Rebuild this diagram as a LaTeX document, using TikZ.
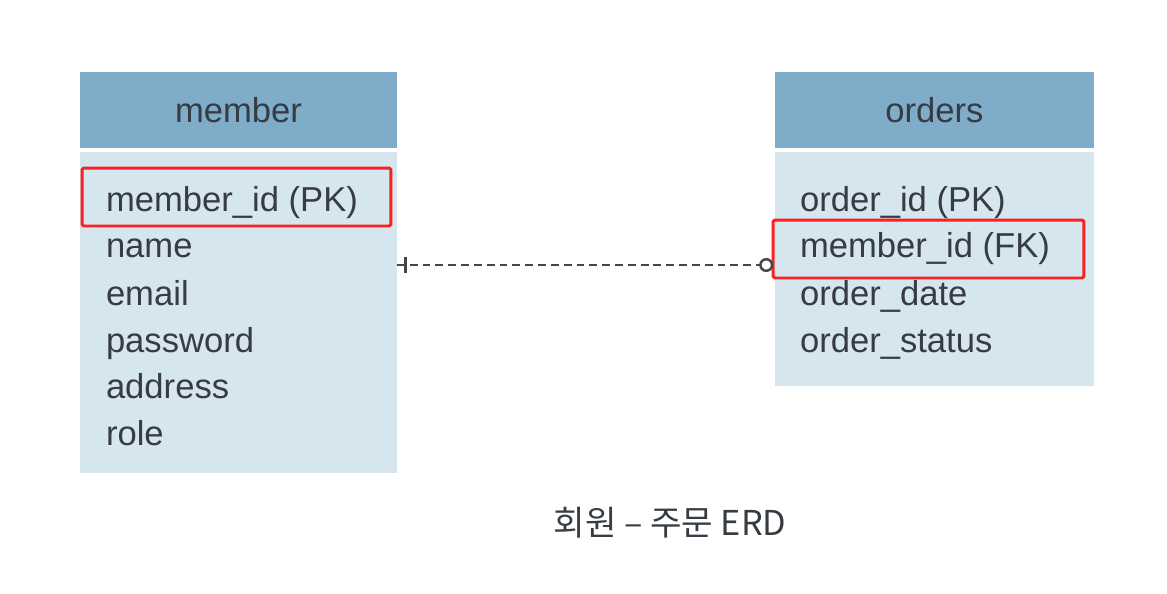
\documentclass[tikz,border=0pt]{standalone}
\usepackage{fontspec}
\setmainfont{Liberation Sans}
\newfontfamily\krfont{Noto Sans CJK KR}
\usetikzlibrary{arrows.meta,decorations.markings}
\definecolor{headblue}{RGB}{127,172,200}
\definecolor{bodyblue}{RGB}{214,230,239}
\definecolor{txtgray}{RGB}{55,60,66}
\definecolor{keyred}{RGB}{250,32,32}
\definecolor{linegray}{RGB}{70,70,70}

\begin{document}
\begin{tikzpicture}[x=0.02cm,y=-0.02cm,
            every node/.style = {inner sep=0pt, outer sep=0pt, text=txtgray,
                                 font=\fontsize{19.7}{23}\selectfont},
            head/.style = {fill=headblue, minimum height=1.52cm, anchor=north west},
            tbody/.style = {fill=bodyblue, anchor=north west},
            field/.style = {anchor=base west},
            keybox/.style = {draw=keyred, line width=1.7pt, rounded corners=1pt,
                             minimum width=#1, minimum height=1.16cm},
            relline/.style = {draw=linegray, line width=1.1pt,
                              dash pattern=on 4.5pt off 2.8pt,
                              -{Circle[open,length=8pt,width=8pt,line width=1.4pt,sep=1pt]},
                              postaction={decorate},
                              decoration={markings, mark=at position 5pt with
                                {\draw[-,solid,line width=2pt] (0,-4.3pt) -- (0,4.3pt);}}}
            ]
    \useasboundingbox (0,0) rectangle (1167,593);

    % member table
    \node[head, minimum width=6.34cm] (mhead) at (80,72) {};
    \node (mtitle) at (mhead.center) {member};
    \node[tbody, minimum width=6.34cm, minimum height=6.42cm] (mbody) at (80,152) {};
    \node[field] (mid) at (106,211) {member\_id (PK)};
    \node[field] (mname) at (106,257) {name};
    \node[field] (memail) at (106,305) {email};
    \node[field] (mpass) at (106,352) {password};
    \node[field] (maddr) at (106,398) {address};
    \node[field] (mrole) at (106,445) {role};
    \node[keybox=6.18cm] (mpk) at (236.5,197) {};

    % orders table
    \node[head, minimum width=6.38cm] (ohead) at (775,72) {};
    \node (otitle) at (ohead.center) {orders};
    \node[tbody, minimum width=6.38cm, minimum height=4.68cm] (obody) at (775,152) {};
    \node[field] (oid) at (800,211) {order\_id (PK)};
    \node[field] (omem) at (800,257) {member\_id (FK)};
    \node[field] (odate) at (800,305) {order\_date};
    \node[field] (ostat) at (800,352) {order\_status};
    \node[keybox=6.22cm] (ofk) at (928.5,249) {};

    % relation
    \draw[relline] (mbody.east |- 0,265) -- (obody.west |- 0,265);

    \node[font=\krfont\fontsize{19.5}{23}\selectfont] (caption) at (670,523) {회원 – 주문 ERD};
\end{tikzpicture}
\end{document}
